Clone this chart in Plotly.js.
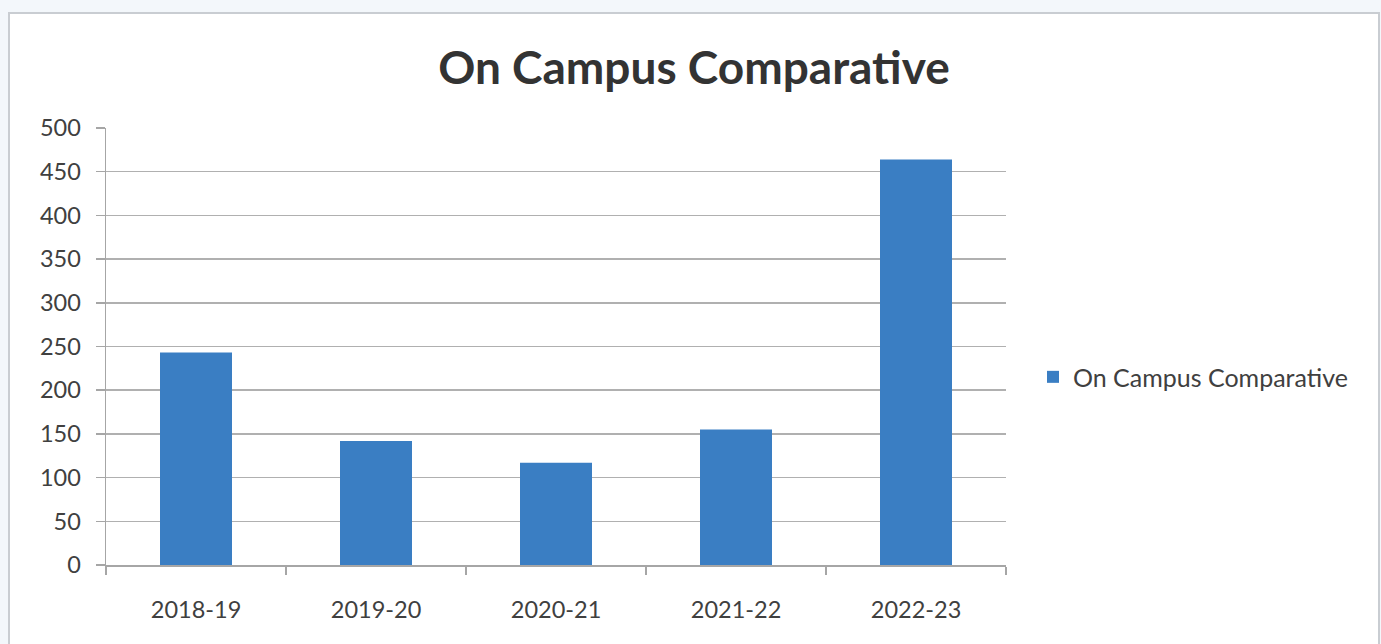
<!DOCTYPE html>
<html>
<head>
<meta charset="utf-8">
<script src="https://cdn.plot.ly/plotly-3.0.1.min.js"></script>
<style>
  html, body { margin: 0; padding: 0; background: #f3f7fb; width: 1381px; height: 644px; overflow: hidden; }
  #frame { position: absolute; left: 8px; top: 12px; width: 1368px; height: 632px;
           border-left: 2px solid #c9cdd2; border-top: 2px solid #c9cdd2; border-right: 2px solid #c9cdd2;
           background: #ffffff; }
  #chart { width: 1368px; height: 632px; }
</style>
</head>
<body>
<div id="frame"><div id="chart"></div></div>
<script>
const categories = ["2018-19", "2019-20", "2020-21", "2021-22", "2022-23"];
const values = [243, 142, 117, 155, 464];
const seriesName = "On Campus Comparative";
const chartTitle = "On Campus Comparative";

const trace = {
  type: "bar",
  x: categories,
  y: values,
  name: seriesName,
  marker: { color: "#3a7ec3" },
  showlegend: true
};

const layout = {
  width: 1368,
  height: 632,
  margin: { l: 96, r: 372, t: 114, b: 81 },
  paper_bgcolor: "#ffffff",
  plot_bgcolor: "#ffffff",
  bargap: 0.6,
  font: { family: "Lato, 'Open Sans', sans-serif", color: "#404040", size: 23 },
  title: {
    text: "<b>" + chartTitle + "</b>",
    font: { family: "Lato, 'Open Sans', sans-serif", size: 46, color: "#333333" },
    x: 0.5, xref: "container", xanchor: "center",
    y: 0.914, yref: "container", yanchor: "middle"
  },
  xaxis: {
    type: "category",
    showline: true, linecolor: "#a6a6a6", linewidth: 1.5,
    ticks: "outside", tickson: "boundaries", ticklen: 8, tickcolor: "#a6a6a6", tickwidth: 1.5,
    showgrid: false,
    tickfont: { size: 23.5, color: "#404040" },
    ticklabelstandoff: 23
  },
  yaxis: {
    range: [0, 500], dtick: 50, tick0: 0,
    showline: true, linecolor: "#a6a6a6", linewidth: 1.5,
    ticks: "outside", ticklen: 9, tickcolor: "#a6a6a6", tickwidth: 1.5,
    showgrid: true, gridcolor: "#b0b0b0", gridwidth: 1.5,
    zeroline: false,
    tickfont: { size: 23.5, color: "#404040" },
    ticklabelstandoff: 10
  },
  legend: {
    x: 1.030, xanchor: "left", y: 0.43, yanchor: "middle",
    font: { size: 25, color: "#404040" },
    bgcolor: "rgba(0,0,0,0)",
    itemwidth: 30
  }
};

Plotly.newPlot("chart", [trace], layout, { displayModeBar: false, staticPlot: true });
</script>
</body>
</html>
